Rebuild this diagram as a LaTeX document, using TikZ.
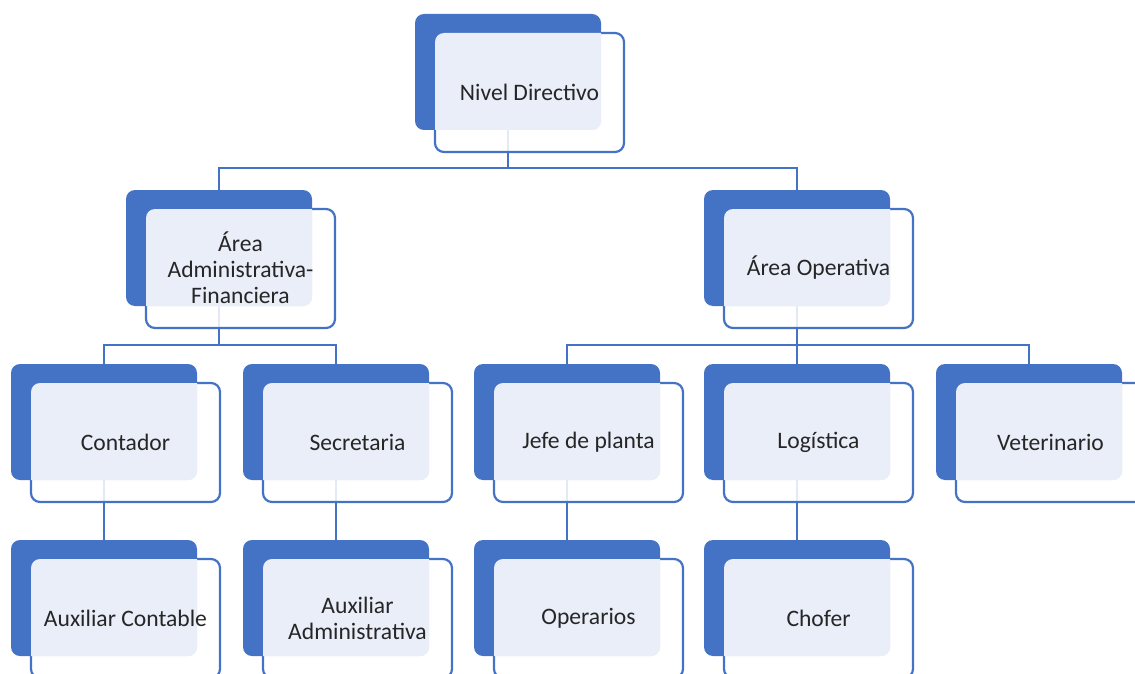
\documentclass[tikz,border=0pt]{standalone}
\usepackage{fontspec}
\setmainfont{Carlito}
\usetikzlibrary{backgrounds}
\definecolor{obl}{HTML}{4472C4}
\definecolor{olt}{HTML}{E9EEF8}
\tikzset{
  backbox/.style={fill=obl, rounded corners=9pt, minimum width=186pt, minimum height=116pt, anchor=north west, inner sep=0pt, outer sep=0pt},
  frontbox/.style={draw=obl, line width=2.2pt, fill=white, fill opacity=0.85, rounded corners=9pt},
  conn/.style={draw=obl, line width=2.6pt},
  lbl/.style={font=\fontsize{23.6}{26}\selectfont, align=center, text=black!85},
}
\newcommand\orgnode[4]{%
  \node[backbox] (#1) at (#2,#3) {};
  \draw[frontbox] (#2+20,#3+19) rectangle ++(189,119);
  \begin{scope}
    \clip[rounded corners=9pt] (#2+20,#3+19) rectangle ++(189,119);
    \fill[olt, rounded corners=9pt] (#2,#3) rectangle ++(186,116);
  \end{scope}
  \node[lbl] (#1t) at (#2+114.5,#3+78) {#4};
}
\begin{document}
\begin{tikzpicture}[x=1pt,y=-1pt]
\useasboundingbox (0,0) rectangle (1135,674);
\orgnode{n1}{415}{14}{Nivel Directivo}
\orgnode{a1}{126}{190}{Área\\Administrativa-\\Financiera}
\orgnode{a2}{704}{190}{Área Operativa}
\orgnode{c1}{11}{364}{Contador}
\orgnode{c2}{243}{364}{Secretaria}
\orgnode{c3}{474}{364}{Jefe de planta}
\orgnode{c4}{704}{364}{Logística}
\orgnode{c5}{936}{364}{Veterinario}
\orgnode{d1}{11}{540}{Auxiliar Contable}
\orgnode{d2}{243}{540}{Auxiliar\\Administrativa}
\orgnode{d3}{474}{540}{Operarios}
\orgnode{d4}{704}{540}{Chofer}
\begin{pgfonlayer}{background}
  \draw[conn] (n1.south) -- ++(0,38) coordinate (j1);
  \draw[conn] (j1) -| (a1.north);
  \draw[conn] (j1) -| (a2.north);
  \draw[conn] (a1.south) -- ++(0,39) coordinate (j2);
  \draw[conn] (j2) -| (c1.north);
  \draw[conn] (j2) -| (c2.north);
  \draw[conn] (a2.south) -- ++(0,39) coordinate (j3);
  \draw[conn] (j3) -| (c3.north);
  \draw[conn] (j3) -| (c4.north);
  \draw[conn] (j3) -| (c5.north);
  \draw[conn] (c1.south) -- (d1.north);
  \draw[conn] (c2.south) -- (d2.north);
  \draw[conn] (c3.south) -- (d3.north);
  \draw[conn] (c4.south) -- (d4.north);
\end{pgfonlayer}
\end{tikzpicture}
\end{document}
